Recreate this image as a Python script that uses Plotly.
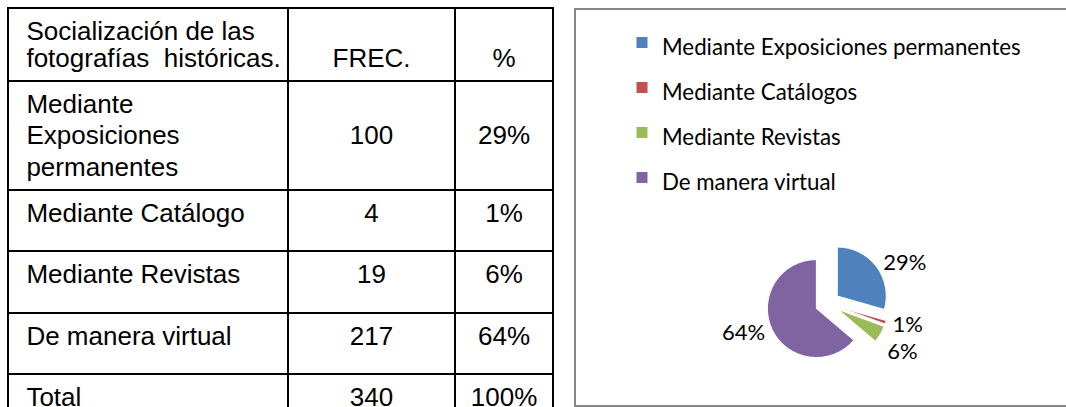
import plotly.graph_objects as go

W, H = 1066, 440  # figure is taller than the 407px window; the bottom is cut like the reference

# ---- data ----
header_labels = ["Socialización de las<br>fotografías\u00a0 históricas.", "<br>FREC.", "<br>%"]
row_labels = ["Mediante<br>Exposiciones<br>permanentes", "Mediante Catálogo", "Mediante Revistas",
              "De manera virtual", "Total"]
row_freq = [100, 4, 19, 217, 340]
row_pct = ["29%", "1%", "6%", "64%", "100%"]

pie_labels = ["Mediante Exposiciones permanentes", "Mediante Catálogos", "Mediante Revistas", "De manera virtual"]
pie_values = [100, 4, 19, 217]
pie_colors = ["#4F81BD", "#C0504D", "#9BBB59", "#8064A2"]


# ---- helpers ----
def px(x):
    return x / W


def py(y):
    return 1 - y / H


def span(s, size, pad=""):
    lines = s.split("<br>")
    out = []
    for l in lines:
        txt = (pad + l) if l else "\u00a0"  # keep empty lines as real lines
        out.append('<span style="font-size:%spx">%s</span>' % (size, txt))
    res = "<br>".join(out)
    if len(lines) == 1:
        res += "<br>"  # explicit line break keeps plotly from word-wrapping the markup
    return res


TS = 26  # visible table text size
line = dict(color="black", width=2)
colw = [280, 167, 98]
lpad = "\u2009\u2009"

freq_txt = [("<br>%d" % v) if "<br>" in lab else str(v) for v, lab in zip(row_freq, row_labels)]
pct_txt = [("<br>" + p) if "<br>" in lab else p for p, lab in zip(row_pct, row_labels)]

hdr = [span(header_labels[0], TS, lpad), span(header_labels[1], TS), span(header_labels[2], TS)]
col0 = [span(s, TS, lpad) for s in row_labels]
col1 = [span(t, TS) for t in freq_txt]
col2 = [span(t, TS) for t in pct_txt]

table = go.Table(
    domain=dict(x=[px(8), px(553)], y=[0, py(8)]),
    columnwidth=colw,
    header=dict(values=hdr, align=["left", "center", "center"], height=72,
                font=dict(family="Liberation Sans, Arial", size=21, color="black"),
                line=line, fill=dict(color="white")),
    cells=dict(values=[col0, col1, col2], align=["left", "center", "center"], height=61.5,
               font=dict(family="Liberation Sans, Arial", size=24, color="black"),
               line=line, fill=dict(color="white")),
)

# pie: center ~ (827.5, 303.4), radius ~49, pull 0.25
pull = 0.25
r = 49
half = r * (1 + pull)
cx, cy = 827.5, 303.4
pie = go.Pie(
    labels=['<span style="font-size:22.3px">%s</span>' % l for l in pie_labels],
    values=pie_values, sort=False, direction="clockwise", rotation=0,
    marker=dict(colors=pie_colors, line=dict(color="white", width=1)),
    pull=pull, textinfo="percent", textposition="outside",
    texttemplate='<span style="color:black">%{percent:.0%}</span>',
    textfont=dict(family="Lato", size=22, color="black"),
    outsidetextfont=dict(family="Lato", size=22, color="white"),
    domain=dict(x=[px(cx - half), px(cx + half)], y=[py(cy + half), py(cy - half)]),
    showlegend=True, hoverinfo="value+percent",
)

fig = go.Figure([table, pie])

fig.update_layout(
    width=W, height=H, margin=dict(l=0, r=0, t=0, b=0),
    paper_bgcolor="white", plot_bgcolor="white",
    legend=dict(x=px(622), y=py(15), xanchor="left", yanchor="top",
                font=dict(family="Lato", size=32.3, color="black"),
                bgcolor="rgba(0,0,0,0)", traceorder="normal"),
    shapes=[dict(type="rect", xref="paper", yref="paper", x0=px(575), x1=px(1075), y0=py(406), y1=py(9),
                 line=dict(color="#878787", width=2), fillcolor="rgba(0,0,0,0)", layer="below")],
)

fig.write_html("out.html", config={"displayModeBar": False},
               post_script="document.body.style.margin='0';document.body.style.overflow='hidden';")
